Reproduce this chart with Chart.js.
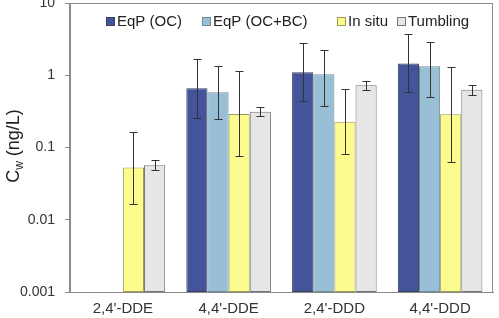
<!DOCTYPE html>
<html>
<head>
<meta charset="utf-8">
<script src="https://cdn.jsdelivr.net/npm/chart.js@4/dist/chart.umd.min.js"></script>
<style>
  html, body { margin: 0; padding: 0; background: #fff; }
  #wrap { width: 499px; height: 318px; position: relative; }
</style>
</head>
<body>
<div id="wrap"><canvas id="chart"></canvas></div>
<script>
const categories = ["2,4'-DDE", "4,4'-DDE", "2,4'-DDD", "4,4'-DDD"];
const seriesNames = ['EqP (OC)', 'EqP (OC+BC)', 'In situ', 'Tumbling'];

const eqpOC = [null, 0.66, 1.10, 1.45];
const eqpOCLow = [null, 0.26, 0.445, 0.586];
const eqpOCHigh = [null, 1.68, 2.77, 3.69];

const eqpOCBC = [null, 0.58, 1.03, 1.33];
const eqpOCBCLow = [null, 0.248, 0.38, 0.50];
const eqpOCBCHigh = [null, 1.33, 2.21, 2.86];

const inSitu = [0.053, 0.29, 0.227, 0.288];
const inSituLow = [0.0164, 0.076, 0.081, 0.063];
const inSituHigh = [0.166, 1.13, 0.64, 1.31];

const tumbling = [0.057, 0.313, 0.726, 0.63];
const tumblingLow = [0.049, 0.27, 0.625, 0.54];
const tumblingHigh = [0.068, 0.367, 0.84, 0.73];

const yTicks = [0.001, 0.01, 0.1, 1, 10];
const yTickLabels = ['0.001', '0.01', '0.1', '1', '10'];

const colors = ['#44549a', '#98bfd6', '#fcfc8e', '#e6e6e6'];
const borders = ['#3a3f5c', '#6f8a99', '#9a9a55', '#777777'];

const seriesValues = [eqpOC, eqpOCBC, inSitu, tumbling];
const seriesLow = [eqpOCLow, eqpOCBCLow, inSituLow, tumblingLow];
const seriesHigh = [eqpOCHigh, eqpOCBCHigh, inSituHigh, tumblingHigh];

const errorBars = {
  id: 'errorBars',
  afterDatasetsDraw(chart) {
    const { ctx } = chart;
    const y = chart.scales.y;
    ctx.save();
    ctx.strokeStyle = '#333';
    ctx.lineWidth = 1;
    chart.data.datasets.forEach((ds, di) => {
      const meta = chart.getDatasetMeta(di);
      meta.data.forEach((bar, i) => {
        const lo = seriesLow[di][i];
        const hi = seriesHigh[di][i];
        if (lo == null || hi == null) return;
        const x = Math.round(bar.x) + 0.5;
        const yl = Math.round(y.getPixelForValue(lo)) + 0.5;
        const yh = Math.round(y.getPixelForValue(hi)) + 0.5;
        ctx.beginPath();
        ctx.moveTo(x, yl); ctx.lineTo(x, yh);
        ctx.moveTo(x - 4, yl); ctx.lineTo(x + 4, yl);
        ctx.moveTo(x - 4, yh); ctx.lineTo(x + 4, yh);
        ctx.stroke();
      });
    });
    ctx.restore();
  }
};

const frameAndLabels = {
  id: 'frameAndLabels',
  beforeDatasetsDraw(chart) {
    const { ctx, chartArea: a } = chart;
    ctx.save();
    ctx.strokeStyle = '#8a8a8a';
    ctx.lineWidth = 1;
    ctx.strokeRect(Math.round(a.left) - 0.5, Math.round(a.top) + 0.5,
      Math.round(a.right - a.left), Math.round(a.bottom - a.top));
    ctx.restore();
  },
  afterDraw(chart) {
    const { ctx, chartArea: a } = chart;
    ctx.save();
    // legend
    const boxX = [106, 202, 337, 397];
    ctx.font = '15px "Liberation Sans", Arial, sans-serif';
    ctx.textBaseline = 'middle';
    ctx.textAlign = 'left';
    seriesNames.forEach((name, i) => {
      ctx.fillStyle = colors[i];
      ctx.fillRect(boxX[i], 17, 9, 9);
      ctx.strokeStyle = borders[i];
      ctx.strokeRect(boxX[i] + 0.5, 17.5, 8, 8);
      ctx.fillStyle = '#222';
      ctx.fillText(name, boxX[i] + 11, 22);
    });
    // y axis title with subscript
    const cy = 146;
    ctx.translate(15, cy);
    ctx.rotate(-Math.PI / 2);
    ctx.fillStyle = '#222';
    ctx.textBaseline = 'alphabetic';
    const big = '18px "Liberation Sans", Arial, sans-serif';
    const small = '12px "Liberation Sans", Arial, sans-serif';
    ctx.font = big;
    const wC = ctx.measureText('C').width;
    const wRest = ctx.measureText(' (ng/L)').width;
    ctx.font = small;
    const wW = ctx.measureText('w').width;
    let x = -(wC + wW + wRest) / 2;
    const base = 4;
    ctx.font = big;
    ctx.fillText('C', x, base);
    x += wC;
    ctx.font = small;
    ctx.fillText('w', x, base + 4);
    x += wW;
    ctx.font = big;
    ctx.fillText(' (ng/L)', x, base);
    ctx.restore();
  }
};

new Chart(document.getElementById('chart'), {
  type: 'bar',
  data: {
    labels: categories,
    datasets: seriesNames.map((name, i) => ({
      label: name,
      data: seriesValues[i],
      backgroundColor: colors[i],
      borderColor: borders[i],
      borderWidth: 1,
      borderSkipped: false,
      categoryPercentage: 0.8,
      barPercentage: 1.0
    }))
  },
  options: {
    responsive: true,
    maintainAspectRatio: false,
    animation: false,
    layout: { padding: { left: 0, right: 6, top: 3, bottom: 0 } },
    plugins: {
      legend: { display: false },
      tooltip: { enabled: false }
    },
    scales: {
      x: {
        grid: { display: false, drawTicks: false },
        border: { display: true, color: '#8a8a8a' },
        ticks: {
          color: '#333',
          padding: 8,
          maxRotation: 0,
          font: { family: '"Liberation Sans", Arial, sans-serif', size: 15 }
        },
        afterFit(scale) {
          scale.height = 26;
          scale.paddingLeft = 0;
          scale.paddingRight = 0;
        }
      },
      y: {
        type: 'logarithmic',
        min: 0.001,
        max: 10,
        grid: { display: true, drawOnChartArea: false, drawTicks: true, tickLength: 5, color: '#8a8a8a' },
        border: { display: true, color: '#8a8a8a' },
        afterBuildTicks(scale) {
          scale.ticks = yTicks.map((v) => ({ value: v }));
        },
        ticks: {
          color: '#333',
          padding: 10,
          font: { family: '"Liberation Sans", Arial, sans-serif', size: 14 },
          callback(value, index) { return yTickLabels[index]; }
        },
        afterFit(scale) {
          scale.width = 70;
          scale.paddingTop = 0;
          scale.paddingBottom = 0;
        }
      }
    }
  },
  plugins: [frameAndLabels, errorBars]
});
</script>
</body>
</html>
